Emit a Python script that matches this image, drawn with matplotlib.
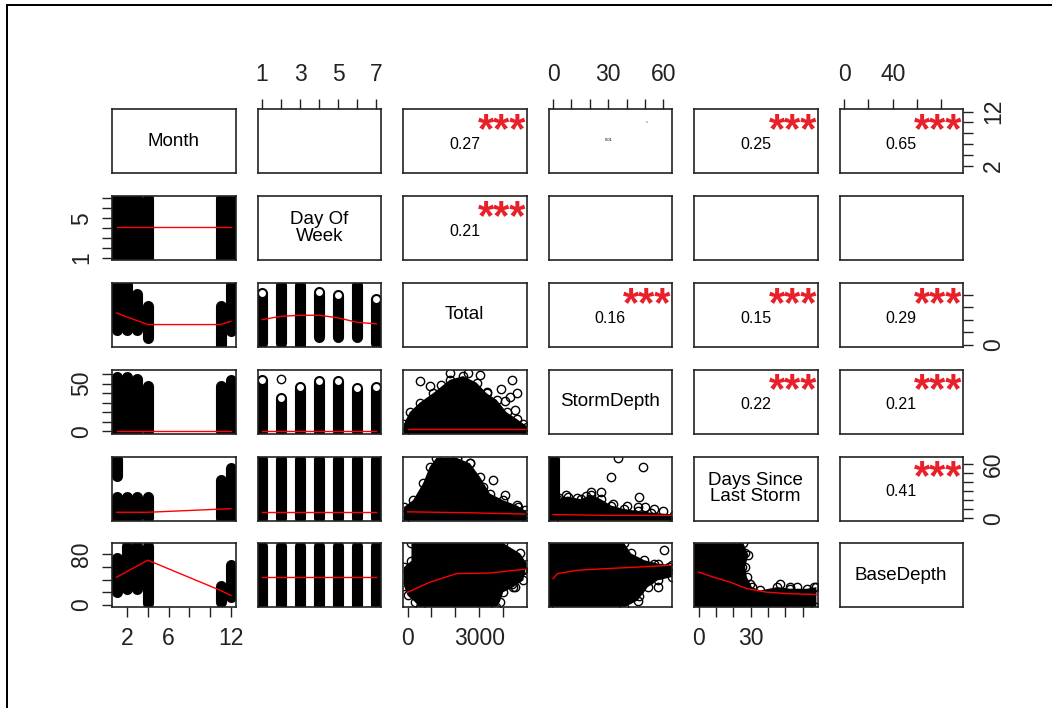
import matplotlib
matplotlib.use('Agg')
import matplotlib.pyplot as plt
from matplotlib.lines import Line2D

plt.rcParams['font.family'] = ['Liberation Sans', 'DejaVu Sans']

# six variables of the pairs plot and their data ranges
var_names = ['Month', 'Day Of\nWeek', 'Total', 'StormDepth', 'Days Since\nLast Storm', 'BaseDepth']
var_min = [1, 1, 0, 0, 0, 0]
var_max = [12, 7, 4780, 62.2, 65.8, 94]

months = [1, 2, 3, 4, 11, 12]
weekdays = [1, 2, 3, 4, 5, 6, 7]

# axis ticks and the labels R kept
month_ticks = [2, 4, 6, 8, 10, 12]
weekday_ticks = [1, 2, 3, 4, 5, 6, 7]
total_ticks = [0, 1000, 2000, 3000, 4000]
storm_ticks = [0, 10, 20, 30, 40, 50, 60]
days_ticks = [0, 10, 20, 30, 40, 50, 60]
base_ticks = [0, 20, 40, 60, 80]

month_bottom_labels = ['2', '', '6', '', '', '12']
month_right_labels = ['2', '', '', '', '', '12']
weekday_top_labels = ['1', '', '3', '', '5', '', '7']
weekday_left_labels = ['1', '', '', '', '5', '', '']
total_bottom_labels = ['0', '', '', '3000', '']
total_right_labels = ['0', '', '', '', '']
storm_top_labels = ['0', '', '', '30', '', '', '60']
storm_left_labels = ['0', '', '', '', '', '50', '']
days_bottom_labels = ['0', '', '', '30', '', '', '']
days_right_labels = ['0', '', '', '', '', '', '60']
base_top_labels = ['0', '', '40', '', '']
base_left_labels = ['0', '', '', '', '80']

# upper triangle: correlations and significance
corr_rows = [0, 0, 0, 1, 2, 2, 2, 3, 3, 4]
corr_cols = [2, 4, 5, 2, 3, 4, 5, 4, 5, 5]
corr_text = ['0.27', '0.25', '0.65', '0.21', '0.16', '0.15', '0.29', '0.22', '0.21', '0.41']
corr_stars = ['***'] * 10
tiny_corr = '0.01'  # Month vs StormDepth, printed almost invisibly small

# lower triangle, Month on x: extent of the stacked points per month and smoother
month_weekday_lo = [1, 1, 1, 1, 1, 1]
month_weekday_hi = [7, 7, 7, 7, 7, 7]
month_weekday_fit = [4.1, 4.1, 4.1, 4.1, 4.1, 4.1]

month_total_lo = [1180, 1200, 1200, 510, 0, 1080]
month_total_hi = [4780, 4780, 4050, 3110, 3110, 4780]
month_total_fit = [2550, 2230, 1920, 1610, 1610, 1880]

month_storm_lo = [0, 0, 0, 0, 0, 0]
month_storm_hi = [57, 57, 55, 48, 48, 54]
month_storm_fit = [0.5, 0.5, 0.5, 0.5, 0.5, 0.5]

month_days_x = [1, 1, 2, 3, 4, 11, 12]
month_days_lo = [0, 47, 0, 0, 0, 0, 0]
month_days_hi = [24, 65.8, 24, 24, 24, 42, 56]
month_days_fit = [6.5, 6.5, 6.5, 6.5, 10, 10.5]

month_base_lo = [20, 25, 25, 3, 5, 12]
month_base_hi = [74, 94, 94, 94, 30, 64]
month_base_fit = [44, 53, 62, 71, 23, 15]

# lower triangle, Day Of Week on x
weekday_total_lo = [100, 100, 0, 600, 600, 600, 100]
weekday_total_hi = [4190, 4780, 4780, 4270, 4020, 4780, 3650]
weekday_total_fit = [2010, 2280, 2360, 2360, 2150, 1790, 1670]

weekday_storm_lo = [0, 0, 0, 0, 0, 0, 0]
weekday_storm_hi = [54, 35, 47, 53, 53, 45, 47]
weekday_storm_fit = [0.5, 0.5, 0.5, 0.5, 0.5, 0.5, 0.5]
weekday_storm_out_x = [2]
weekday_storm_out_y = [55]

weekday_days_lo = [0, 0, 0, 0, 0, 0, 0]
weekday_days_hi = [65.8, 65.8, 65.8, 65.8, 65.8, 65.8, 65.8]
weekday_days_fit = [6.7, 6.7, 6.7, 6.7, 6.7, 6.7, 6.7]

weekday_base_lo = [0, 0, 0, 0, 0, 0, 0]
weekday_base_hi = [94, 94, 94, 94, 94, 94, 94]
weekday_base_fit = [44, 44, 44, 44, 44, 44, 44]

# lower triangle, continuous pairs: dense cloud outline, loose points, smoother
total_storm_cloud_x = [-150, -150, 90, 509, 1066, 1766, 2323, 2884, 3303, 3722, 4141, 4560, 4838, 5000, 5000]
total_storm_cloud_y = [-3, 8, 20, 30, 40, 54, 58, 51, 40, 33, 20, 13, 8, 5, -3]
total_storm_pts_x = [509, 1418, 2533, 3023, 4350, 4560, 4070, 4490, 3303, 1766, 928, 3900, 4300]
total_storm_pts_y = [52.4, 48.9, 61.2, 59.5, 54.2, 40.2, 31.4, 22.7, 41.8, 61.2, 47.2, 44, 36]
total_storm_fit_x = [0, 2500, 4900]
total_storm_fit_y = [2, 2, 2]

total_days_cloud_x = [-150, -150, 228, 647, 928, 1208, 2047, 2604, 3023, 3442, 4000, 4560, 4908, 5000, 5000]
total_days_cloud_y = [-3, 12.3, 19.8, 38.5, 57.1, 67, 67, 60.9, 45.9, 27.3, 19.8, 14.2, 8.6, 5, -3]
total_days_pts_x = [3580, 4070, 4630, 2604, 2047, 3163]
total_days_pts_y = [42.2, 25.4, 12.3, 60.9, 66.5, 34.7]
total_days_fit_x = [0, 2500, 4900]
total_days_fit_y = [7, 6, 4.5]

total_base_cloud_x = [161, 4000, 4699, 4980, 4838, 4420, 4000, 3860, 3700, 500, 300, 0, -150, -150, 161]
total_base_cloud_y = [98, 98, 81.7, 65.7, 39, 28.2, 20.2, 5, -4, -4, 5, 15, 30, 60, 70]
total_base_pts_x = [4350, 4699, 4838, 4141, 4560, 4000, 4490, 4770]
total_base_pts_y = [33.7, 60.2, 55, 49.7, 73.7, 31, 28.2, 55]
total_base_fit_x = [0, 928, 2047, 3442, 4980]
total_base_fit_y = [20, 36, 49.7, 50.6, 57]

storm_days_bar_x = [0.5]
storm_days_bar_lo = [0]
storm_days_bar_hi = [65.8]
storm_days_cloud_x = [0, 0, 2.4, 7.9, 15.1, 20.6, 26, 31.5, 38.7, 46, 53.3, 66, 66]
storm_days_cloud_y = [-3, 18, 21, 24, 21, 26, 21, 14, 10, 8, 6, 4, -3]
storm_days_pts_x = [35.1, 48.7, 31.5, 46.9, 46, 26, 6.9, 20.6, 10.6, 32.4, 13, 18, 3, 40, 55, 60, 50]
storm_days_pts_y = [66.5, 57.1, 45.9, 23.5, 12.3, 29.1, 25.4, 29.1, 16.1, 16.1, 22, 25, 22, 14, 10, 8, 12]
storm_days_fit_x = [0, 30, 66]
storm_days_fit_y = [4, 3, 3]

storm_base_cloud_x = [-3, 38.7, 42.4, 49.6, 56.9, 64.7, 64.7, 56.9, 51.5, 46, 38.7, -3]
storm_base_cloud_y = [98, 98, 81.7, 71, 65.7, 63, 44.2, 39, 28.2, 7, -4, -4]
storm_base_pts_x = [60.5, 55.1, 49.6, 52.3, 56.9, 46.9, 42.4, 46.9, 49.6, 58.7, 63.2]
storm_base_pts_y = [87, 65.7, 49.7, 39, 28.2, 23, 12.2, 14.9, 44.2, 49.7, 60.2]
storm_base_fit_x = [0, 2.4, 13.3, 29.7, 47.8, 64.7]
storm_base_fit_y = [41.7, 49.7, 55, 57.7, 60.3, 63]

days_base_cloud_x = [-2.6, 25.8, 28.7, 26.8, 27.8, 30.7, 35.5, 45.1, 52.8, 62.4, 67.8, 67.8, -2.6]
days_base_cloud_y = [97.7, 97.7, 79, 60.2, 44.2, 28.2, 23, 28.2, 25.7, 25.7, 28.2, -3.8, -3.8]
days_base_pts_x = [47, 56.7, 66.2, 22, 26.8, 24.9, 29.7, 52.8]
days_base_pts_y = [33.7, 28.2, 28.2, 95, 81.7, 60.2, 33.7, 28.2]
days_base_fit_x = [-0.1, 8.5, 18.2, 27.8, 39.3, 52.8, 67.8]
days_base_fit_y = [52.2, 44.2, 36.2, 25.7, 20.2, 17.7, 16.6]

# ---------------------------------------------------------------- layout
W, H = 1052, 708
PX = 72 / 100  # points per pixel
col_left0, col_step, panel_w = 112, 145.5, 123.5
row_top0, row_step, panel_h = 109.3, 86.8, 64
MS, MEW = 6.0, 1.0
COL_LW = 8.0
TXT = 16.5

fig = plt.figure(figsize=(W / 100, H / 100), dpi=100)
fig.patch.set_facecolor('white')

axes = {}
for r in range(6):
    for c in range(6):
        left = (col_left0 + c * col_step) / W
        bottom = 1 - (row_top0 + r * row_step + panel_h) / H
        ax = fig.add_axes([left, bottom, panel_w / W, panel_h / H])
        ext_x = 0.04 * (var_max[c] - var_min[c])
        ext_y = 0.04 * (var_max[r] - var_min[r])
        ax.set_xlim(var_min[c] - ext_x, var_max[c] + ext_x)
        ax.set_ylim(var_min[r] - ext_y, var_max[r] + ext_y)
        ax.set_xticks([])
        ax.set_yticks([])
        for s in ax.spines.values():
            s.set_linewidth(1.2)
            s.set_color('#222222')
        axes[(r, c)] = ax


def columns(ax, xs, lo, hi, ytop=None):
    for x, a, b in zip(xs, lo, hi):
        ax.plot([x, x], [a, b], color='black', lw=COL_LW, solid_capstyle='round')
    if ytop is None:
        return
    for x, b in zip(xs, hi):
        if b < ytop * 0.97:
            ax.plot([x], [b], 'o', mfc='white', mec='black', ms=MS, mew=MEW)


def cloud(ax, cx, cy):
    ax.fill(cx, cy, color='black', lw=0)
    ax.plot(cx, cy, 'o', mfc='none', mec='black', ms=MS, mew=MEW)


def points(ax, x, y):
    ax.plot(x, y, 'o', mfc='none', mec='black', ms=MS, mew=MEW)


def smooth(ax, x, y):
    ax.plot(x, y, color='red', lw=1.0)


# Month column
ax = axes[(1, 0)]
columns(ax, months, month_weekday_lo, month_weekday_hi)
smooth(ax, months, month_weekday_fit)
ax = axes[(2, 0)]
columns(ax, months, month_total_lo, month_total_hi)
smooth(ax, months, month_total_fit)
ax = axes[(3, 0)]
columns(ax, months, month_storm_lo, month_storm_hi)
smooth(ax, months, month_storm_fit)
ax = axes[(4, 0)]
columns(ax, month_days_x, month_days_lo, month_days_hi)
smooth(ax, months, month_days_fit)
ax = axes[(5, 0)]
columns(ax, months, month_base_lo, month_base_hi)
smooth(ax, months, month_base_fit)

# Day Of Week column
ax = axes[(2, 1)]
columns(ax, weekdays, weekday_total_lo, weekday_total_hi, var_max[2])
smooth(ax, weekdays, weekday_total_fit)
ax = axes[(3, 1)]
columns(ax, weekdays, weekday_storm_lo, weekday_storm_hi, var_max[3])
points(ax, weekday_storm_out_x, weekday_storm_out_y)
smooth(ax, weekdays, weekday_storm_fit)
ax = axes[(4, 1)]
columns(ax, weekdays, weekday_days_lo, weekday_days_hi, var_max[4])
smooth(ax, weekdays, weekday_days_fit)
ax = axes[(5, 1)]
columns(ax, weekdays, weekday_base_lo, weekday_base_hi, var_max[5])
smooth(ax, weekdays, weekday_base_fit)

# continuous pairs
ax = axes[(3, 2)]
cloud(ax, total_storm_cloud_x, total_storm_cloud_y)
points(ax, total_storm_pts_x, total_storm_pts_y)
smooth(ax, total_storm_fit_x, total_storm_fit_y)
ax = axes[(4, 2)]
cloud(ax, total_days_cloud_x, total_days_cloud_y)
points(ax, total_days_pts_x, total_days_pts_y)
smooth(ax, total_days_fit_x, total_days_fit_y)
ax = axes[(5, 2)]
cloud(ax, total_base_cloud_x, total_base_cloud_y)
points(ax, total_base_pts_x, total_base_pts_y)
smooth(ax, total_base_fit_x, total_base_fit_y)
ax = axes[(4, 3)]
columns(ax, storm_days_bar_x, storm_days_bar_lo, storm_days_bar_hi)
cloud(ax, storm_days_cloud_x, storm_days_cloud_y)
points(ax, storm_days_pts_x, storm_days_pts_y)
smooth(ax, storm_days_fit_x, storm_days_fit_y)
ax = axes[(5, 3)]
cloud(ax, storm_base_cloud_x, storm_base_cloud_y)
points(ax, storm_base_pts_x, storm_base_pts_y)
smooth(ax, storm_base_fit_x, storm_base_fit_y)
ax = axes[(5, 4)]
cloud(ax, days_base_cloud_x, days_base_cloud_y)
points(ax, days_base_pts_x, days_base_pts_y)
smooth(ax, days_base_fit_x, days_base_fit_y)

# diagonal names
for i, name in enumerate(var_names):
    axes[(i, i)].text(0.5, 0.5, name, transform=axes[(i, i)].transAxes, ha='center', va='center',
                      fontsize=13.5, linespacing=0.95)

# correlations
for r, c, t, s in zip(corr_rows, corr_cols, corr_text, corr_stars):
    ax = axes[(r, c)]
    ax.text(0.5, 0.45, t, transform=ax.transAxes, ha='center', va='center', fontsize=11.5)
    ax.text(0.8, 0.66, s, transform=ax.transAxes, ha='center', va='center', fontsize=30,
            fontweight='bold', color='#e8202a', family='Liberation Sans')
ax = axes[(0, 3)]
ax.text(0.49, 0.52, tiny_corr, transform=ax.transAxes, ha='center', va='center', fontsize=3)
ax.text(0.8, 0.8, '*', transform=ax.transAxes, ha='center', va='center', fontsize=3.5, color='#555555')

# outer axes
tick_kw = dict(length=7.5, width=1.0, colors='#222222', labelsize=TXT)


def xaxis(ax, ticks, labels, side):
    ax.set_xticks(ticks)
    ax.set_xticklabels(labels)
    ax.xaxis.set_ticks_position(side)
    ax.xaxis.set_label_position(side)
    ax.tick_params(axis='x', pad=9 if side == 'top' else 7, **tick_kw)


def yaxis(ax, ticks, labels, side):
    ax.set_yticks(ticks)
    ax.set_yticklabels(labels, rotation=90, va='center')
    ax.yaxis.set_ticks_position(side)
    ax.yaxis.set_label_position(side)
    ax.tick_params(axis='y', pad=6, **tick_kw)


xaxis(axes[(5, 0)], month_ticks, month_bottom_labels, 'bottom')
xaxis(axes[(0, 1)], weekday_ticks, weekday_top_labels, 'top')
xaxis(axes[(5, 2)], total_ticks, total_bottom_labels, 'bottom')
xaxis(axes[(0, 3)], storm_ticks, storm_top_labels, 'top')
xaxis(axes[(5, 4)], days_ticks, days_bottom_labels, 'bottom')
xaxis(axes[(0, 5)], base_ticks, base_top_labels, 'top')
yaxis(axes[(0, 5)], month_ticks, month_right_labels, 'right')
yaxis(axes[(1, 0)], weekday_ticks, weekday_left_labels, 'left')
yaxis(axes[(2, 5)], total_ticks, total_right_labels, 'right')
yaxis(axes[(3, 0)], storm_ticks, storm_left_labels, 'left')
yaxis(axes[(4, 5)], days_ticks, days_right_labels, 'right')
yaxis(axes[(5, 0)], base_ticks, base_left_labels, 'left')

# partial frame of the original device
fig.add_artist(Line2D([7 / W, 7 / W], [0, 1 - 5 / H], color='black', lw=2 * PX))
fig.add_artist(Line2D([7 / W, 1], [1 - 5 / H, 1 - 5 / H], color='black', lw=2 * PX))

fig.savefig('out.png', dpi=100)
